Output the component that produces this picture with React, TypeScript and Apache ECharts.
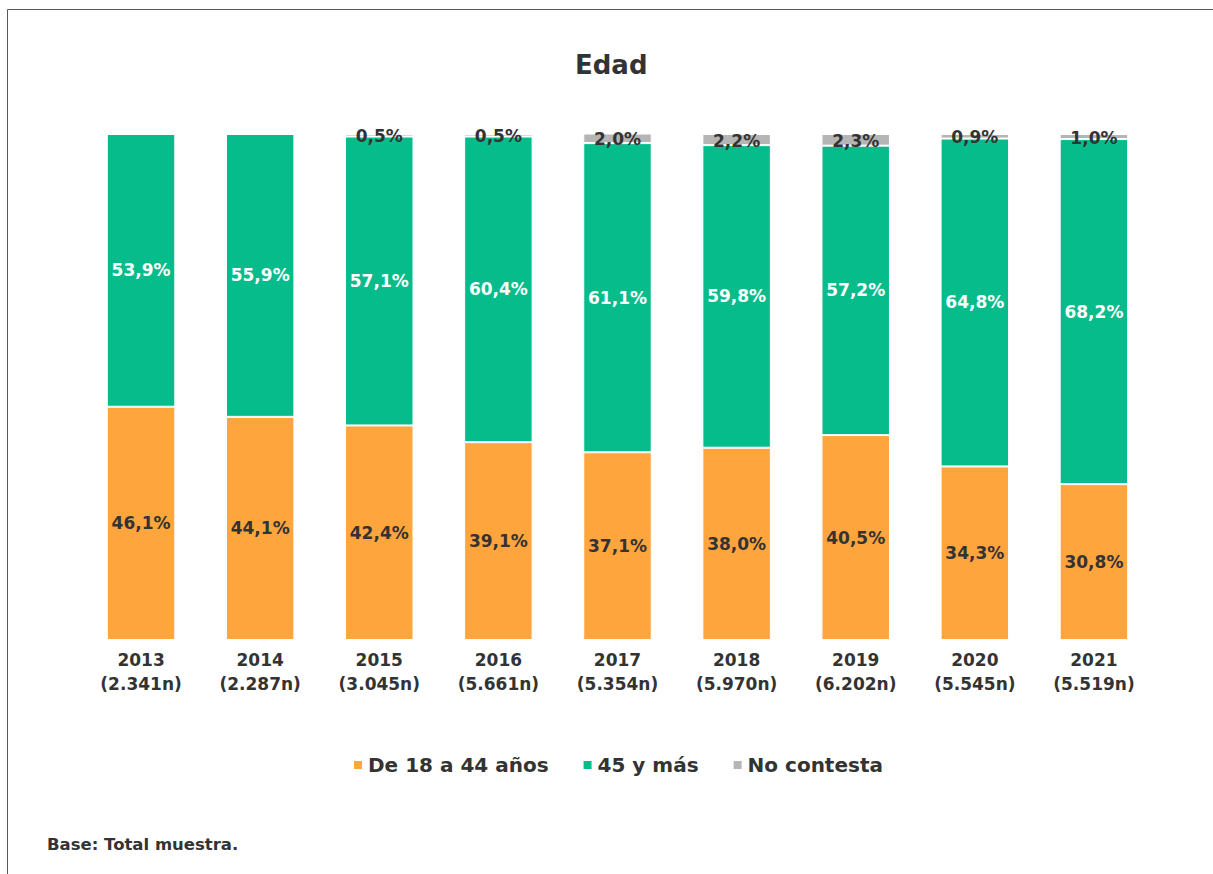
import React, { useEffect, useRef } from "react";
import * as echarts from "echarts";

const years = ["2013", "2014", "2015", "2016", "2017", "2018", "2019", "2020", "2021"];
const sampleSizes = ["2.341n", "2.287n", "3.045n", "5.661n", "5.354n", "5.970n", "6.202n", "5.545n", "5.519n"];
const young = [46.1, 44.1, 42.4, 39.1, 37.1, 38.0, 40.5, 34.3, 30.8];
const older = [53.9, 55.9, 57.1, 60.4, 61.1, 59.8, 57.2, 64.8, 68.2];
const noAnswer = [0, 0, 0.5, 0.5, 2.0, 2.2, 2.3, 0.9, 1.0];
const seriesNames = ["De 18 a 44 años", "45 y más", "No contesta"];
const colors = ["#FFA53D", "#06BC8B", "#B5B5B5"];

const FONT = "'DejaVu Sans', Verdana, sans-serif";
const fmt = (v: number) => (v > 0 ? v.toFixed(1).replace(".", ",") + "%" : "");

export default function App() {
  const ref = useRef<HTMLDivElement>(null);
  useEffect(() => {
    if (!ref.current) return;
    const chart = echarts.init(ref.current, undefined, { renderer: "svg" });
    const mk = (name: string, data: number[], color: string, labelColor: string, offset: number[]) => ({
      name,
      type: "bar",
      stack: "total",
      data,
      barWidth: "57.5%",
      itemStyle: { color, borderColor: "#ffffff", borderWidth: 1 },
      label: {
        show: true,
        position: "inside",
        offset,
        color: labelColor,
        fontFamily: FONT,
        fontWeight: "bold",
        fontSize: 17,
        formatter: (p: any) => fmt(p.value),
      },
    });
    chart.setOption({
      animation: false,
      backgroundColor: "#ffffff",
      title: {
        text: "Edad",
        left: 570,
        top: 47,
        textStyle: { fontFamily: FONT, fontWeight: "bold", fontSize: 26, color: "#333333" },
      },
      grid: { left: 81.5, right: 59.5, top: 134, bottom: 234 },
      xAxis: {
        type: "category",
        data: years,
        axisLine: { show: false },
        axisTick: { show: false },
        axisLabel: {
          margin: 8,
          fontFamily: FONT,
          fontWeight: "bold",
          fontSize: 17,
          lineHeight: 24,
          color: "#333333",
          formatter: (v: string, i: number) => `${v}\n(${sampleSizes[i]})`,
        },
      },
      yAxis: { type: "value", min: 0, max: 100, show: false, splitLine: { show: false } },
      legend: {
        data: seriesNames,
        left: 347,
        top: 750,
        icon: "rect",
        itemWidth: 10,
        itemHeight: 10,
        itemGap: 33,
        textStyle: { fontFamily: FONT, fontWeight: "bold", fontSize: 20, color: "#333333" },
      },
      graphic: [
        { type: "line", shape: { x1: 7.5, y1: 9.5, x2: 1213, y2: 9.5 }, style: { stroke: "#595959", lineWidth: 1 } },
        { type: "line", shape: { x1: 7.5, y1: 9.5, x2: 7.5, y2: 874 }, style: { stroke: "#595959", lineWidth: 1 } },
        {
          type: "text",
          left: 47,
          top: 836,
          style: { text: "Base: Total muestra.", fontFamily: FONT, fontWeight: "bold", fontSize: 16.5, fill: "#333333" },
        },
      ],
      series: [
        mk(seriesNames[0], young, colors[0], "#333333", [0, 0]),
        mk(seriesNames[1], older, colors[1], "#ffffff", [0, 0]),
        mk(seriesNames[2], noAnswer, colors[2], "#333333", [0, 1]),
      ],
    });
    return () => chart.dispose();
  }, []);
  return (
    <div
      ref={ref}
      style={{ position: "fixed", left: 0, top: 0, width: 1213, height: 874, background: "#fff" }}
    />
  );
}
